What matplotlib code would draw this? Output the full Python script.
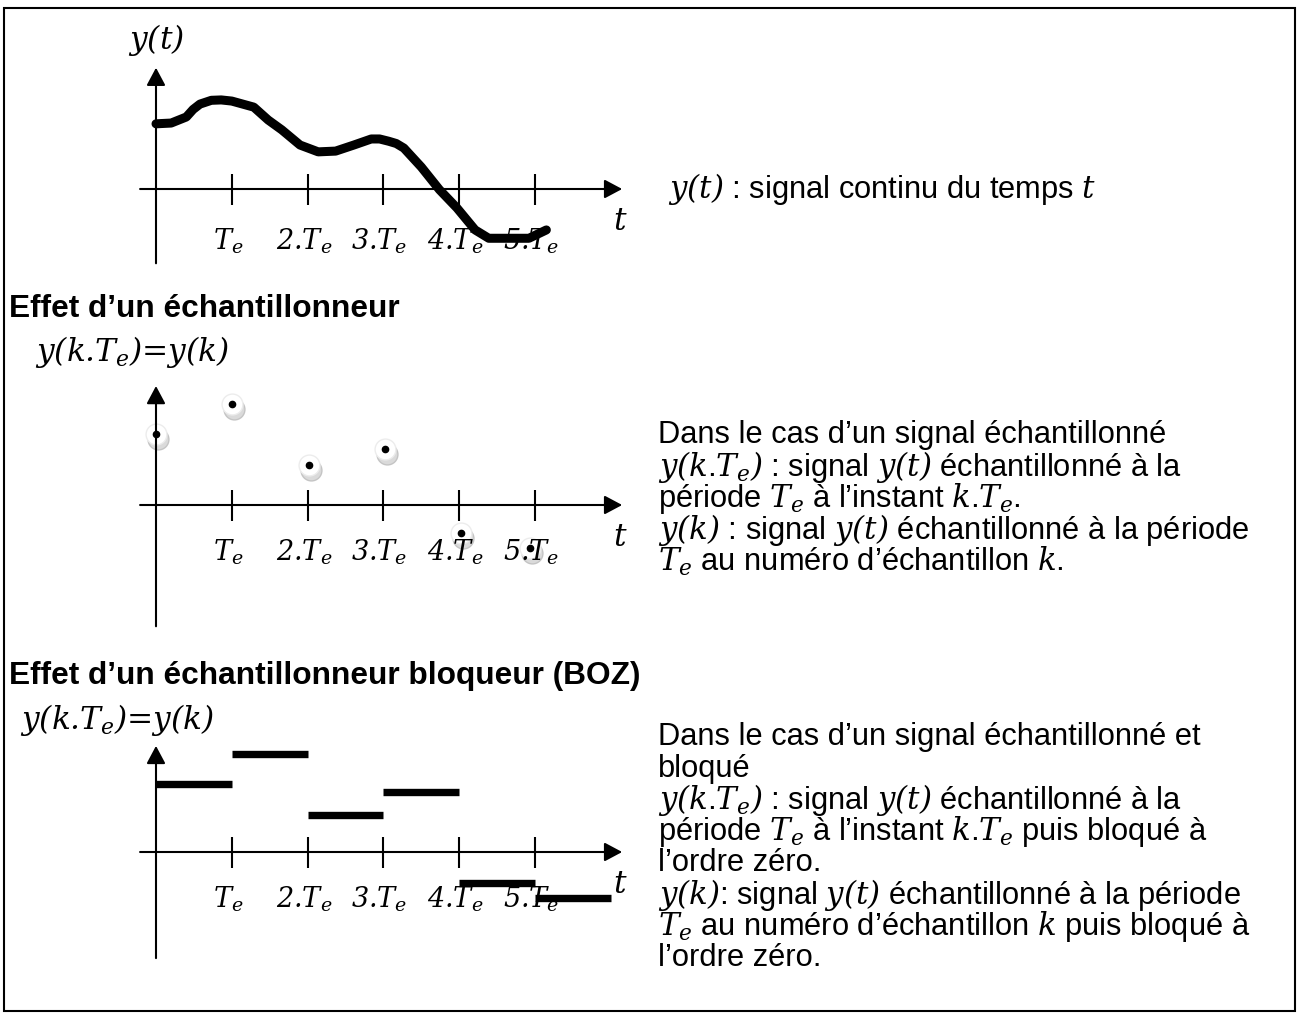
#!/usr/bin/env python3
"""Sampling / zero-order hold illustration: y(t), y(k.Te) and BOZ output."""

import matplotlib

matplotlib.use("Agg")
import matplotlib.pyplot as plt
from matplotlib.transforms import offset_copy

plt.rcParams["font.family"] = ["Liberation Sans", "DejaVu Sans"]
plt.rcParams["mathtext.fontset"] = "custom"
plt.rcParams["mathtext.rm"] = "DejaVu Serif:italic"
plt.rcParams["mathtext.it"] = "DejaVu Serif:italic"

W, H, DPI = 1298, 1013, 100
PX_PER_TE = 75.8
ORIGIN_X = 156

# continuous signal y(t) (t in Te, y in Te-sized units)
curve_t = [0.0, 0.20, 0.40, 0.49, 0.58, 0.73, 0.86, 1.00, 1.29, 1.48, 1.66,
           1.90, 2.14, 2.37, 2.61, 2.84, 2.95, 3.07, 3.17, 3.27, 3.50, 3.74,
           3.97, 4.21, 4.39, 4.68, 4.92, 5.15]
curve_y = [0.86, 0.87, 0.95, 1.05, 1.12, 1.17, 1.175, 1.16, 1.08, 0.91, 0.78,
           0.58, 0.49, 0.50, 0.58, 0.66, 0.66, 0.63, 0.60, 0.54, 0.29, -0.01,
           -0.25, -0.54, -0.65, -0.65, -0.65, -0.54]

# sampled values y(k)
sample_t = [0.0, 1.0, 2.02, 3.02, 4.02, 4.94]
sample_y = [0.94, 1.33, 0.53, 0.74, -0.37, -0.57]

# zero-order hold levels
hold_k = [0, 1, 2, 3, 4, 5]
hold_y = [0.90, 1.29, 0.49, 0.79, -0.41, -0.61]

# the dot is kept outside $...$ so mathtext adds no space after it
ticks = [1, 2, 3, 4, 5]
tick_labels = ["$T_e$", "2.$T_e$", "3.$T_e$", "4.$T_e$", "5.$T_e$"]

text_top = ["$y(t)$ : signal continu du temps $t$"]
text_sampler = [
    "Dans le cas d\u2019un signal échantillonné",
    "$y(k$.$T_e)$ : signal $y(t)$ échantillonné à la",
    "période $T_e$ à l\u2019instant $k$.$T_e$.",
    "$y(k)$ : signal $y(t)$ échantillonné à la période",
    "$T_e$ au numéro d\u2019échantillon $k$.",
]
text_boz = [
    "Dans le cas d\u2019un signal échantillonné et",
    "bloqué",
    "$y(k$.$T_e)$ : signal $y(t)$ échantillonné à la",
    "période $T_e$ à l\u2019instant $k$.$T_e$ puis bloqué à",
    "l\u2019ordre zéro.",
    "$y(k)$: signal $y(t)$ échantillonné à la période",
    "$T_e$ au numéro d\u2019échantillon $k$ puis bloqué à",
    "l\u2019ordre zéro.",
]

SERIF = dict(family="DejaVu Serif", style="italic")
BODY_SIZE = 22.2
HEAD_SIZE = 22.8
TICK_SIZE = 19.5
LABEL_SIZE = 22.5
LINE_STEP = 31.6


def panel(fig, axis_y, top, bottom, left=110, right=650):
    ax = fig.add_axes([left / W, 1 - bottom / H, (right - left) / W, (bottom - top) / H])
    ax.set_xlim((left - ORIGIN_X) / PX_PER_TE, (right - ORIGIN_X) / PX_PER_TE)
    ax.set_ylim((axis_y - bottom) / PX_PER_TE, (axis_y - top) / PX_PER_TE)
    ax.axis("off")
    return ax


def draw_axes(ax, y_bottom, y_top, label_y):
    arrow = dict(arrowstyle="-|>,head_length=0.45,head_width=0.24", mutation_scale=24,
                 lw=1.5, color="black", shrinkA=0, shrinkB=0)
    ax.annotate("", xy=(6.15, 0), xytext=(-0.21, 0), arrowprops=arrow)
    ax.annotate("", xy=(0, y_top), xytext=(0, y_bottom), arrowprops=arrow)
    ax.vlines(ticks, -0.21, 0.2, color="black", lw=1.5)
    for k, lab in zip(ticks, tick_labels):
        ax.text(k - 0.05, label_y, lab, ha="center", va="center", fontsize=TICK_SIZE, **SERIF)
    ax.text(6.12, -0.44, "$t$", ha="center", va="center", fontsize=LABEL_SIZE)


def write_lines(ax, lines, x, y0):
    for i, line in enumerate(lines):
        ax.text(x, y0 + i * LINE_STEP, line, ha="left", va="center", fontsize=BODY_SIZE)


fig = plt.figure(figsize=(W / DPI, H / DPI), dpi=DPI)

bg = fig.add_axes([0, 0, 1, 1])
bg.set_xlim(0, W)
bg.set_ylim(H, 0)
bg.axis("off")
bg.add_patch(plt.Rectangle((4, 8), 1291, 1003, fill=False, lw=1.5, color="black"))

# headers and axis titles
bg.text(156, 40, "$y(t)$", ha="center", va="center", fontsize=LABEL_SIZE)
bg.text(9, 309, "Effet d\u2019un échantillonneur", ha="left", va="center",
        fontsize=HEAD_SIZE, fontweight="bold")
bg.text(35, 352, "$y(k$.$T_e)$=$y(k)$", ha="left", va="center", fontsize=LABEL_SIZE, **SERIF)
bg.text(9, 676, "Effet d\u2019un échantillonneur bloqueur (BOZ)", ha="left", va="center",
        fontsize=HEAD_SIZE, fontweight="bold")
bg.text(20, 720, "$y(k$.$T_e)$=$y(k)$", ha="left", va="center", fontsize=LABEL_SIZE, **SERIF)

write_lines(bg, text_top, 668, 189)
write_lines(bg, text_sampler, 658, 435)
write_lines(bg, text_boz, 658, 737)

# continuous signal
ax1 = panel(fig, 189, 55, 275)
draw_axes(ax1, -0.98, 1.60, -0.69)
ax1.plot(curve_t, curve_y, color="black", lw=6.5, solid_capstyle="round",
         solid_joinstyle="round")

# sampler
ax2 = panel(fig, 505, 370, 635)
draw_axes(ax2, -1.60, 1.57, -0.62)
shadow = offset_copy(ax2.transData, fig=fig, x=2, y=-5, units="dots")
ax2.plot(sample_t, sample_y, "o", ms=15, mfc="#dadada", mec="#c4c4c4", mew=1,
         transform=shadow)
ax2.plot(sample_t, sample_y, "o", ms=15, mfc="white", mec="#ececec", mew=1)
ax2.plot(sample_t, sample_y, "o", ms=4.5, color="black")

# sampler + zero-order hold
ax3 = panel(fig, 852, 735, 965)
draw_axes(ax3, -1.40, 1.40, -0.62)
for k, v in zip(hold_k, hold_y):
    ax3.plot([k, k + 1], [v, v], color="black", lw=5.3, solid_capstyle="butt")

fig.savefig("out.png", dpi=DPI)
plt.close(fig)
